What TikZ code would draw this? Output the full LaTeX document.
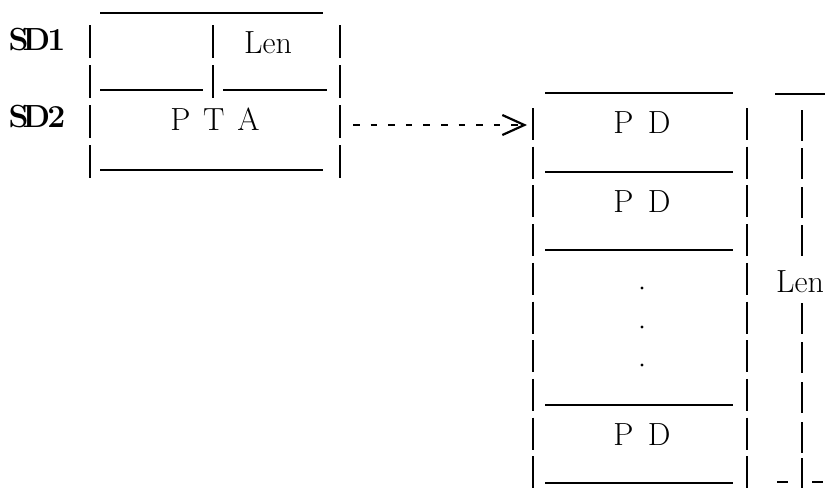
\documentclass[tikz,border=0pt]{standalone}
\usetikzlibrary{arrows.meta}

\begin{document}
\begin{tikzpicture}[
  x=0.5pt, y=-0.5pt,
  every node/.style={
    inner sep=0pt,
    anchor=base,
    font=\fontsize{16}{19}\selectfont,
  },
  tag/.style={font=\fontsize{16}{19}\selectfont\bfseries},
  bar/.style={line width=1.25pt},
  lenbar/.style={line width=1pt},
  rule/.style={line width=0.75pt},
  ptr/.style={
    line width=1.2pt,
    dash pattern=on 3.3pt off 5.5pt,
    -{Straight Barb[length=11pt, width=10pt, line width=1.1pt]},
  }
]
\useasboundingbox (0,0) rectangle (829,488);

% SD1 / SD2 record
\foreach \x in {90,340}
  \foreach \y in {25,65,105,145}
    \draw[bar] (\x,\y) -- ++(0,33);
\foreach \y in {25,65}
  \draw[bar] (213,\y) -- ++(0,33);
\draw[rule] (100,13) -- (323,13);
\draw[rule] (100,90) -- (203,90);
\draw[rule] (223,90) -- (327,90);
\draw[rule] (100,170) -- (323,170);

\node[tag] (sd1) at (37,50) {S\kern-3pt D\kern-1.5pt 1};
\node[tag] (sd2) at (37,127) {S\kern-3pt D\kern-1.5pt 2};
\node (len1) at (268,53) {Len};
\node (pta) at (215,130) {P\hspace{.4em}T\hspace{.4em}A};

% PD table
\foreach \x in {533,747}
  \foreach \i in {0,...,9}
    \draw[bar] (\x,108+38.7*\i) -- ++(0,32);
\foreach \y in {93,172,250,405,483}
  \draw[rule] (545,\y) -- (733,\y);

\node (pd1) at (642,133) {P\hspace{.45em}D};
\node (pd2) at (642,212) {P\hspace{.45em}D};
\node (pdn) at (642,445) {P\hspace{.45em}D};
\foreach \y in {288,327,365}
  \fill (642,\y) circle (0.8pt);

% length mark
\draw[rule] (775,94) -- (825,94);
\foreach \y in {110,148,187,225,303,342,382,422}
  \draw[lenbar] (802,\y) -- ++(0,31);
\draw[lenbar] (802,458) -- (802,488);
\draw[rule] (777,482) -- (788,482);
\draw[rule] (812,482) -- (823,482);
\node (len2) at (800,292) {Len};

% pointer
\coordinate (ptaR) at (340,125);
\coordinate (pdL) at (533,125);
\draw[ptr, shorten <=6.5pt, shorten >=3pt] (ptaR) -- (pdL);

\end{tikzpicture}
\end{document}
